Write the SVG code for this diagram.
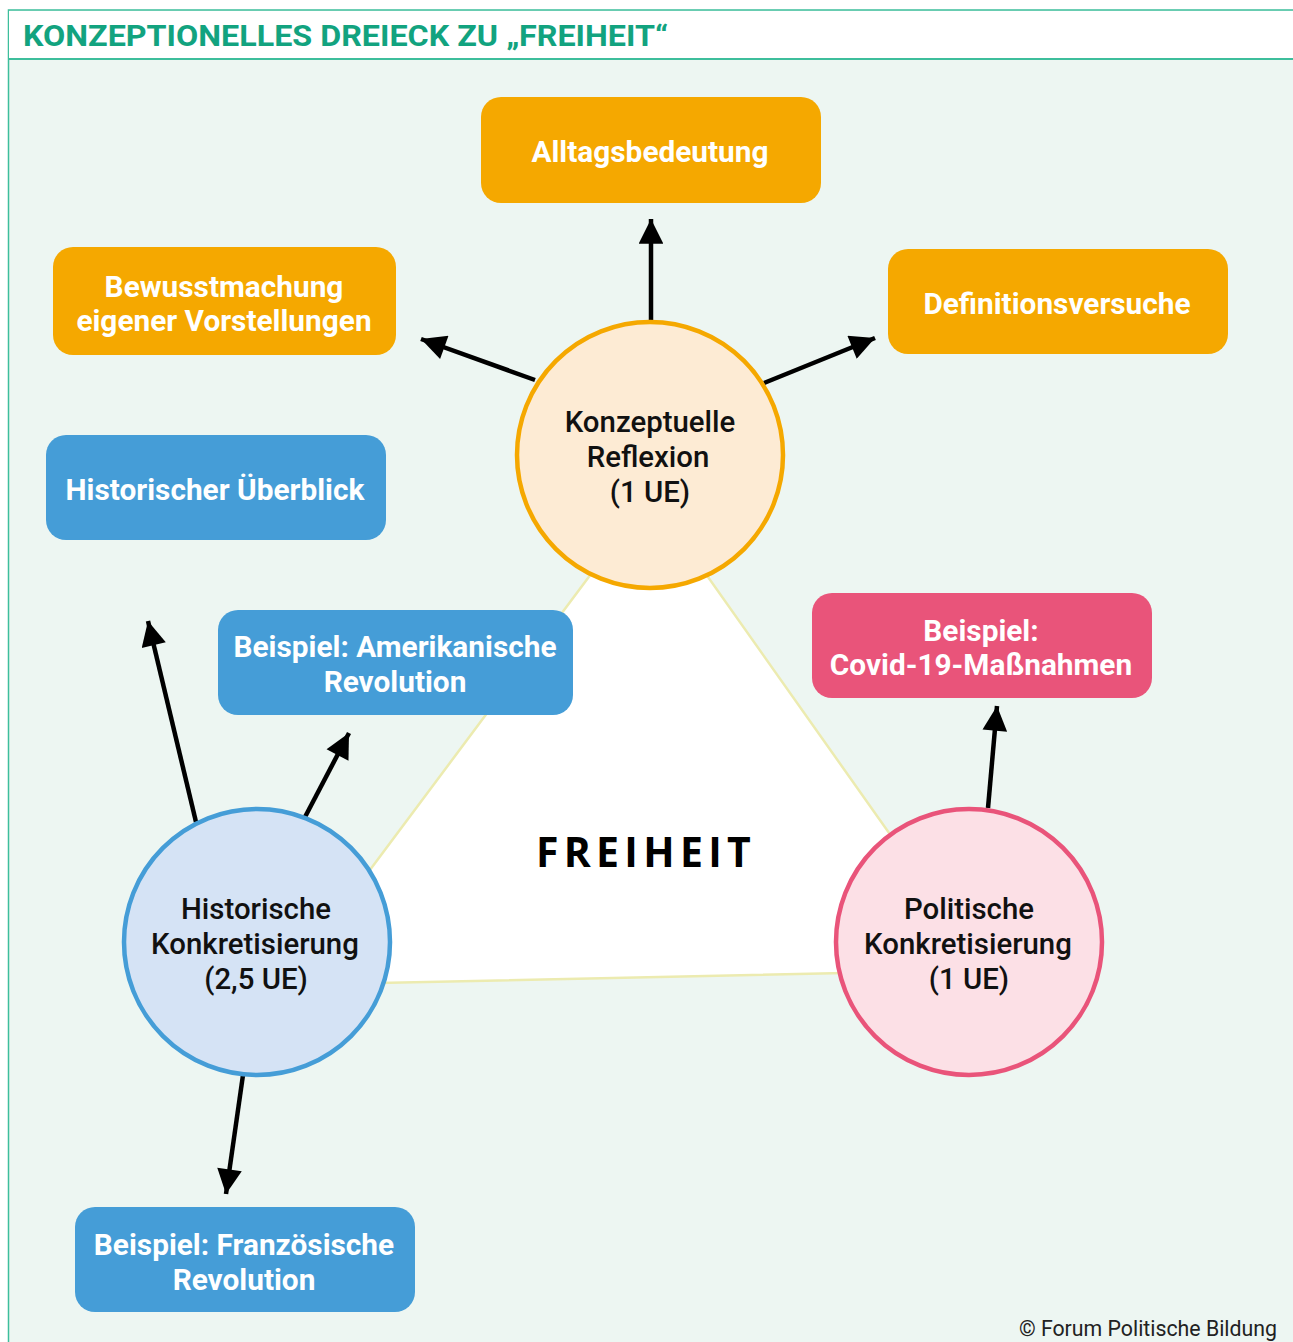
<svg xmlns="http://www.w3.org/2000/svg" width="1293" height="1342" viewBox="0 0 1293 1342">
<style>
.box text{font-family:Roboto,"Liberation Sans",sans-serif;font-weight:700;font-size:29.8px;fill:#fff;text-anchor:middle}
.circ text{font-family:Roboto,"Liberation Sans",sans-serif;font-weight:500;font-size:29.4px;fill:#111;text-anchor:middle}
.or{fill:#F5A800}
.bl{fill:#459DD7}
.pk{fill:#E9547A}
.arr{stroke:#000;stroke-width:4.5;fill:none}
</style>
<defs>
<marker id="ah" viewBox="0 0 10 10" refX="10" refY="5" markerWidth="6.5" markerHeight="5.5" markerUnits="strokeWidth" orient="auto">
<path d="M0,0 L10,5 L0,10 Z" fill="#000"/>
</marker>
</defs>
<rect x="0" y="0" width="1293" height="1342" fill="#fff"/>
<rect x="8.5" y="10" width="1290" height="1340" fill="#EDF6F2" stroke="#3DBE9C" stroke-width="1.5"/>
<rect x="9" y="11" width="1290" height="48" fill="#fff"/>
<line x1="8" y1="59" x2="1293" y2="59" stroke="#3DBE9C" stroke-width="2"/>
<text x="23" y="46" font-family="Roboto,'Liberation Sans',sans-serif" font-weight="700" font-size="30" fill="#12A37F" textLength="645" lengthAdjust="spacingAndGlyphs">KONZEPTIONELLES DREIECK ZU „FREIHEIT“</text>

<polygon points="650,495 284,985 986,970" fill="#fff" stroke="#ECEBB0" stroke-width="2.5"/>
<text x="646" y="867" font-family="'Open Sans','Noto Sans',sans-serif" font-weight="700" font-size="41" letter-spacing="5.3" fill="#000" text-anchor="middle">FREIHEIT</text>

<g id="connectors">
<line class="arr" x1="651" y1="320" x2="651" y2="219" marker-end="url(#ah)"/>
<line class="arr" x1="535" y1="380" x2="421" y2="339" marker-end="url(#ah)"/>
<line class="arr" x1="764" y1="383" x2="875" y2="338" marker-end="url(#ah)"/>
<line class="arr" x1="196" y1="822" x2="148" y2="621" marker-end="url(#ah)"/>
<line class="arr" x1="305" y1="817" x2="349" y2="733" marker-end="url(#ah)"/>
<line class="arr" x1="243" y1="1075" x2="226" y2="1194" marker-end="url(#ah)"/>
<line class="arr" x1="988" y1="808" x2="997" y2="706" marker-end="url(#ah)"/>
</g>

<g id="konzeptuelle" class="circ">
<circle cx="650" cy="455" r="133" fill="#FDEBD4" stroke="#F5A800" stroke-width="4.5"/>
<text x="650" y="432">Konzeptuelle</text>
<text x="648" y="467">Reflexion</text>
<text x="650" y="502">(1 UE)</text>
</g>
<g id="historische" class="circ">
<circle cx="257" cy="942" r="133" fill="#D5E3F5" stroke="#459DD7" stroke-width="4.5"/>
<text x="256" y="919">Historische</text>
<text x="255" y="954">Konkretisierung</text>
<text x="256" y="989">(2,5 UE)</text>
</g>
<g id="politische" class="circ">
<circle cx="969" cy="942" r="133" fill="#FCE0E6" stroke="#E9547A" stroke-width="4.5"/>
<text x="969" y="919">Politische</text>
<text x="968" y="954">Konkretisierung</text>
<text x="969" y="989">(1 UE)</text>
</g>

<g id="alltag" class="box">
<rect class="or" x="481" y="97" width="340" height="106" rx="20"/>
<text x="650" y="162">Alltagsbedeutung</text>
</g>
<g id="bewusst" class="box">
<rect class="or" x="53" y="247" width="343" height="108" rx="20"/>
<text x="224" y="297">Bewusstmachung</text>
<text x="224" y="331">eigener Vorstellungen</text>
</g>
<g id="definition" class="box">
<rect class="or" x="888" y="249" width="340" height="105" rx="20"/>
<text x="1057" y="314">Definitionsversuche</text>
</g>
<g id="ueberblick" class="box">
<rect class="bl" x="46" y="435" width="340" height="105" rx="20"/>
<text x="215" y="500">Historischer Überblick</text>
</g>
<g id="amerikanisch" class="box">
<rect class="bl" x="218" y="610" width="355" height="105" rx="20"/>
<text x="395" y="657">Beispiel: Amerikanische</text>
<text x="395" y="692">Revolution</text>
</g>
<g id="covid" class="box">
<rect class="pk" x="812" y="593" width="340" height="105" rx="20"/>
<text x="981" y="641">Beispiel:</text>
<text x="981" y="675">Covid-19-Maßnahmen</text>
</g>
<g id="franzoesisch" class="box">
<rect class="bl" x="75" y="1207" width="340" height="105" rx="20"/>
<text x="244" y="1255">Beispiel: Französische</text>
<text x="244" y="1290">Revolution</text>
</g>

<text x="1277" y="1336" font-family="Roboto,'Liberation Sans',sans-serif" font-size="21.3" fill="#222" text-anchor="end">© Forum Politische Bildung</text>
</svg>
